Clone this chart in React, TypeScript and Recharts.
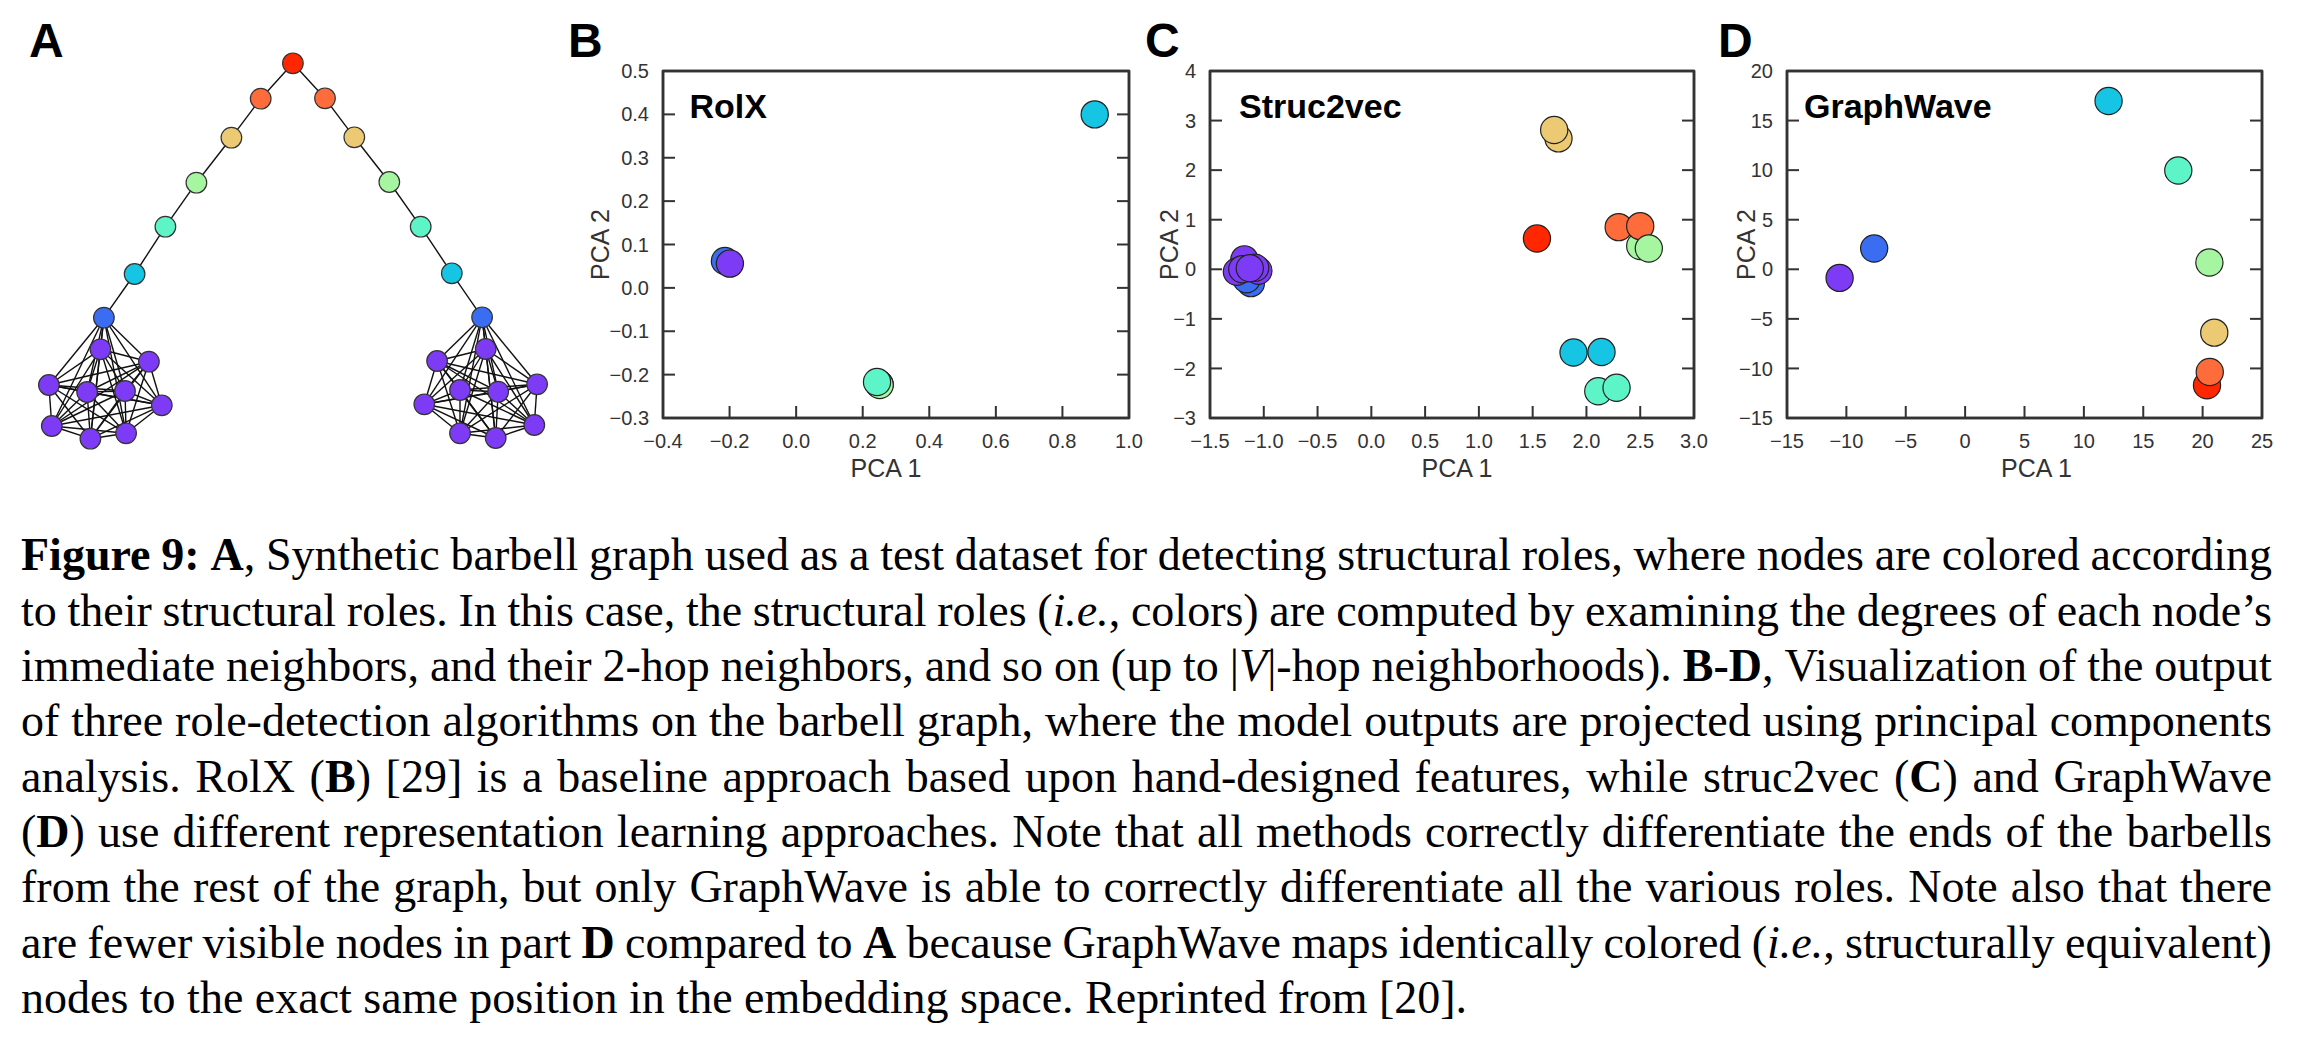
import React from 'react';
import { ScatterChart, Scatter, XAxis, YAxis, Label, ReferenceArea } from 'recharts';

// ---------- colours for the 8 structural roles ----------
// 0 purple (clique), 1 blue, 2 cyan, 3 mint, 4 light green, 5 tan, 6 orange, 7 red
const roleColors = ['#7D3BF6', '#3A6DF1', '#15C5E3', '#5DF5C8', '#A6F5A0', '#ECC973', '#FF6C3B', '#FF2700'];

// ---------- panel A: barbell graph layout ----------
const apexNode = [292.9, 63.3];
const pathRoles = [6, 5, 4, 3, 2, 1];
const leftPathX = [260.7, 231.4, 196.4, 165.4, 134.6, 103.9];
const leftPathY = [98.7, 137.7, 182.7, 226.7, 274.0, 317.7];
const rightPathX = [325.0, 354.3, 389.3, 420.7, 451.8, 482.1];
const rightPathY = [98.3, 137.3, 182.0, 226.7, 273.3, 317.3];
const leftCliqueX = [100.4, 148.9, 48.9, 87.1, 125.0, 161.8, 51.8, 90.4, 126.1];
const leftCliqueY = [349.3, 361.7, 385.0, 392.0, 391.0, 405.3, 426.0, 438.7, 433.3];
const rightCliqueX = [437.1, 485.7, 537.1, 460.0, 498.2, 424.3, 534.3, 460.0, 495.7];
const rightCliqueY = [361.0, 349.0, 384.3, 390.0, 391.7, 404.3, 425.0, 433.3, 438.0];

// ---------- panels B-D: PCA projections [PCA1, PCA2, role] ----------
const rolxPoints: number[][] = [
  [0.25, -0.222, 7], [0.25, -0.222, 6], [0.25, -0.222, 5], [0.251, -0.224, 4], [0.243, -0.217, 3],
  [0.897, 0.4, 2], [-0.214, 0.062, 1], [-0.199, 0.056, 0],
];
const struc2vecPoints: number[][] = [
  [-1.12, -0.28, 1], [-1.16, -0.2, 1],
  [-1.18, 0.2, 0], [-1.25, -0.05, 0], [-1.05, -0.03, 0], [-1.08, 0.03, 0], [-1.2, 0.0, 0], [-1.13, 0.02, 0],
  [1.54, 0.62, 7],
  [1.74, 2.64, 5], [1.7, 2.81, 5],
  [2.5, 0.47, 4],
  [2.3, 0.85, 6], [2.5, 0.87, 6],
  [2.58, 0.42, 4],
  [1.88, -1.68, 2], [2.14, -1.67, 2],
  [2.11, -2.46, 3], [2.28, -2.39, 3],
];
const graphwavePoints: number[][] = [
  [-10.57, -0.87, 0], [-7.66, 2.09, 1], [12.08, 16.97, 2], [17.95, 9.97, 3],
  [20.57, 0.68, 4], [20.98, -6.39, 5], [20.37, -11.7, 7], [20.6, -10.36, 6],
];

const rolxXTicks = [-0.4, -0.2, 0, 0.2, 0.4, 0.6, 0.8, 1.0];
const rolxYTicks = [-0.3, -0.2, -0.1, 0, 0.1, 0.2, 0.3, 0.4, 0.5];
const s2vXTicks = [-1.5, -1.0, -0.5, 0, 0.5, 1.0, 1.5, 2.0, 2.5, 3.0];
const s2vYTicks = [-3, -2, -1, 0, 1, 2, 3, 4];
const gwXTicks = [-15, -10, -5, 0, 5, 10, 15, 20, 25];
const gwYTicks = [-15, -10, -5, 0, 5, 10, 15, 20];

const panelLetters = ['A', 'B', 'C', 'D'];
const panelTitles = ['RolX', 'Struc2vec', 'GraphWave'];

// ---------- caption ----------
type Seg = [string, string];
const captionLines: Seg[][] = [
  [['Figure 9:', 'b'], [' ', ''], ['A', 'b'], [', Synthetic barbell graph used as a test dataset for detecting structural roles, where nodes are colored according', '']],
  [['to their structural roles. In this case, the structural roles (', ''], ['i.e.', 'i'], [', colors) are computed by examining the degrees of each node\u2019s', '']],
  [['immediate neighbors, and their 2-hop neighbors, and so on (up to |', ''], ['V', 'i'], ['|-hop neighborhoods). ', ''], ['B-D', 'b'], [', Visualization of the output', '']],
  [['of three role-detection algorithms on the barbell graph, where the model outputs are projected using principal components', '']],
  [['analysis. RolX (', ''], ['B', 'b'], [') [29] is a baseline approach based upon hand-designed features, while struc2vec (', ''], ['C', 'b'], [') and GraphWave', '']],
  [['(', ''], ['D', 'b'], [') use different representation learning approaches. Note that all methods correctly differentiate the ends of the barbells', '']],
  [['from the rest of the graph, but only GraphWave is able to correctly differentiate all the various roles. Note also that there', '']],
  [['are fewer visible nodes in part ', ''], ['D', 'b'], [' compared to ', ''], ['A', 'b'], [' because GraphWave maps identically colored (', ''], ['i.e.', 'i'], [', structurally equivalent)', '']],
  [['nodes to the exact same position in the embedding space. Reprinted from [20].', '']],
];

const SANS = '"Liberation Sans", Arial, Helvetica, sans-serif';
const SERIF = '"Liberation Serif", "Times New Roman", Times, serif';
const AXIS_COLOR = '#333';

// ---------- graph construction ----------
type GNode = { x: number; y: number; role: number };
const graphNodes: GNode[] = [];
const graphEdges: GNode[][] = [];
(function build() {
  const apex = { x: apexNode[0], y: apexNode[1], role: 7 };
  graphNodes.push(apex);
  const sides = [
    [leftPathX, leftPathY, leftCliqueX, leftCliqueY],
    [rightPathX, rightPathY, rightCliqueX, rightCliqueY],
  ];
  sides.forEach(([px, py, cx, cy]) => {
    let prev = apex;
    const pathNodes = px.map((x, i) => ({ x, y: py[i], role: pathRoles[i] }));
    pathNodes.forEach((n) => {
      graphEdges.push([prev, n]);
      prev = n;
    });
    const clique = [pathNodes[pathNodes.length - 1], ...cx.map((x, i) => ({ x, y: cy[i], role: 0 }))];
    for (let i = 0; i < clique.length; i++)
      for (let j = i + 1; j < clique.length; j++) graphEdges.push([clique[i], clique[j]]);
    pathNodes.forEach((n) => graphNodes.push(n));
    clique.slice(1).forEach((n) => graphNodes.push(n));
  });
})();

const EmptyShape = () => <g />;

const GraphDot = (props: any) => {
  const { cx, cy, payload } = props;
  if (cx == null || cy == null) return <g />;
  return <circle cx={cx} cy={cy} r={10.3} fill={roleColors[payload.role]} stroke="#333" strokeWidth={1.2} />;
};

const PcaDot = (props: any) => {
  const { cx, cy, payload } = props;
  if (cx == null || cy == null) return <g />;
  return <circle cx={cx} cy={cy} r={13.6} fill={roleColors[payload.role]} stroke="#222" strokeWidth={1.2} />;
};

function GraphPanel() {
  return (
    <div style={{ position: 'absolute', left: 0, top: 0 }}>
      <ScatterChart width={560} height={470} margin={{ top: 0, right: 0, bottom: 0, left: 0 }}>
        <XAxis type="number" dataKey="x" domain={[0, 560]} hide allowDataOverflow />
        <YAxis type="number" dataKey="y" domain={[0, 470]} reversed hide allowDataOverflow />
        {graphEdges.map((e, i) => (
          <Scatter
            key={'e' + i}
            data={e}
            line={{ stroke: '#111', strokeWidth: 1.4 }}
            lineType="joint"
            shape={EmptyShape}
            isAnimationActive={false}
            legendType="none"
          />
        ))}
        <Scatter data={graphNodes} shape={GraphDot} isAnimationActive={false} legendType="none" />
      </ScatterChart>
    </div>
  );
}

const TOP = 71;
const PLOT_H = 347;
const X_AXIS_H = 59;
const RIGHT_M = 30;

const fmt1 = (v: number) => v.toFixed(1).replace('-', '\u2212');
const fmt0 = (v: number) => String(v).replace('-', '\u2212');

const EmptyTick = () => <g />;

function PcaPanel(props: {
  points: number[][];
  xTicks: number[];
  yTicks: number[];
  xFmt: (v: number) => string;
  yFmt: (v: number) => string;
  left: number;
  yAxisW: number;
  plotW: number;
  xLabelDx: number;
}) {
  const { points, xTicks, yTicks, xFmt, yFmt, left, yAxisW, plotW, xLabelDx } = props;
  const W = yAxisW + plotW + RIGHT_M;
  const H = TOP + PLOT_H + X_AXIS_H + 4;
  const data = points.map(([x, y, role]) => ({ x, y, role }));
  const xDom = [xTicks[0], xTicks[xTicks.length - 1]];
  const yDom = [yTicks[0], yTicks[yTicks.length - 1]];
  const axisLine = { stroke: AXIS_COLOR, strokeWidth: 2.5 };
  const tickLine = { stroke: AXIS_COLOR, strokeWidth: 2 };
  const tickStyle = { fontSize: 20, fill: '#333', fontFamily: SANS };
  return (
    <div style={{ position: 'absolute', left, top: 0 }}>
      <ScatterChart width={W} height={H} margin={{ top: TOP - 1, right: RIGHT_M - 1, bottom: 4, left: 0 }}>
        <XAxis
          xAxisId={0}
          type="number"
          dataKey="x"
          domain={xDom}
          ticks={xTicks}
          interval={0}
          allowDataOverflow
          height={X_AXIS_H}
          tickSize={-12}
          tickMargin={28}
          tickFormatter={xFmt}
          tick={tickStyle}
          stroke={AXIS_COLOR}
          axisLine={axisLine}
          tickLine={tickLine}
        >
          <Label value="PCA 1" position="insideBottom" offset={0} dx={xLabelDx} style={{ fontSize: 25, fill: '#333', fontFamily: SANS }} />
        </XAxis>
        <XAxis
          xAxisId="top"
          orientation="top"
          type="number"
          domain={xDom}
          ticks={xTicks}
          interval={0}
          allowDataOverflow
          height={1}
          tickSize={-12}
          tick={EmptyTick}
          stroke={AXIS_COLOR}
          axisLine={axisLine}
          tickLine={tickLine}
        />
        <YAxis
          yAxisId={0}
          type="number"
          dataKey="y"
          domain={yDom}
          ticks={yTicks}
          interval={0}
          allowDataOverflow
          width={yAxisW}
          tickSize={-12}
          tickMargin={26}
          tickFormatter={yFmt}
          tick={tickStyle}
          stroke={AXIS_COLOR}
          axisLine={axisLine}
          tickLine={tickLine}
        >
          <Label value="PCA 2" position="center" angle={-90} style={{ fontSize: 25, fill: '#333', fontFamily: SANS }} />
        </YAxis>
        <YAxis
          yAxisId="right"
          orientation="right"
          type="number"
          domain={yDom}
          ticks={yTicks}
          interval={0}
          allowDataOverflow
          width={1}
          tickSize={-12}
          tick={EmptyTick}
          stroke={AXIS_COLOR}
          axisLine={axisLine}
          tickLine={tickLine}
        />
        <ReferenceArea
          xAxisId={0}
          yAxisId={0}
          x1={xDom[0]}
          x2={xDom[1]}
          y1={yDom[0]}
          y2={yDom[1]}
          fill="none"
          fillOpacity={0}
          stroke={AXIS_COLOR}
          strokeWidth={2.5}
          strokeOpacity={1}
          ifOverflow="visible"
        />
        <Scatter data={data} shape={PcaDot} isAnimationActive={false} legendType="none" />
      </ScatterChart>
    </div>
  );
}

function renderSeg(seg: Seg, k: number) {
  const [t, s] = seg;
  if (s === 'b') return <b key={k}>{t}</b>;
  if (s === 'i') return <i key={k}>{t}</i>;
  return <span key={k}>{t}</span>;
}

function lineWords(segs: Seg[]) {
  const words: Seg[][] = [[]];
  segs.forEach(([t, s]) => {
    t.split(' ').forEach((p, i) => {
      if (i > 0) words.push([]);
      if (p) words[words.length - 1].push([p, s]);
    });
  });
  return words.filter((w) => w.length > 0);
}

const CAP_LEFT = 21;
const CAP_WIDTH = 2251;
const CAP_FONT = 46;
const CAP_BASE0 = 571;
const CAP_STEP = 55.3;

function Caption() {
  return (
    <div style={{ position: 'absolute', left: 0, top: 0, fontFamily: SERIF, fontSize: CAP_FONT, lineHeight: CAP_FONT + 'px', color: '#000' }}>
      {captionLines.map((segs, li) => {
        const top = CAP_BASE0 + li * CAP_STEP - 0.8375 * CAP_FONT;
        const last = li === captionLines.length - 1;
        if (last) {
          return (
            <div key={li} style={{ position: 'absolute', left: CAP_LEFT, top, whiteSpace: 'nowrap' }}>
              {segs.map(renderSeg)}
            </div>
          );
        }
        const words = lineWords(segs);
        return (
          <div
            key={li}
            style={{ position: 'absolute', left: CAP_LEFT, top, width: CAP_WIDTH, display: 'flex', justifyContent: 'space-between', whiteSpace: 'nowrap' }}
          >
            {words.map((w, wi) => (
              <span key={wi}>{w.map(renderSeg)}</span>
            ))}
          </div>
        );
      })}
    </div>
  );
}

function Overlay() {
  const letterX = [29, 568, 1145, 1718];
  const titleX = [689.5, 1239, 1804];
  return (
    <svg width={2304} height={140} style={{ position: 'absolute', left: 0, top: 0, pointerEvents: 'none' }}>
      {panelLetters.map((l, i) => (
        <text key={l} x={letterX[i]} y={56.7} fontFamily={SANS} fontWeight="bold" fontSize={48} fill="#000">
          {l}
        </text>
      ))}
      {panelTitles.map((t, i) => (
        <text key={t} x={titleX[i]} y={118.3} fontFamily={SANS} fontWeight="bold" fontSize={34} fill="#000">
          {t}
        </text>
      ))}
    </svg>
  );
}

export default function App() {
  return (
    <div style={{ position: 'absolute', left: 0, top: 0, width: 2304, height: 1053, background: '#fff', overflow: 'hidden', fontFamily: SANS }}>
      <GraphPanel />
      <PcaPanel points={rolxPoints} xTicks={rolxXTicks} yTicks={rolxYTicks} xFmt={fmt1} yFmt={fmt1} left={538} yAxisW={125} plotW={466} xLabelDx={-10} />
      <PcaPanel points={struc2vecPoints} xTicks={s2vXTicks} yTicks={s2vYTicks} xFmt={fmt1} yFmt={fmt0} left={1129} yAxisW={81} plotW={484} xLabelDx={5} />
      <PcaPanel points={graphwavePoints} xTicks={gwXTicks} yTicks={gwYTicks} xFmt={fmt0} yFmt={fmt0} left={1705} yAxisW={82} plotW={475} xLabelDx={12} />
      <Overlay />
      <Caption />
    </div>
  );
}
